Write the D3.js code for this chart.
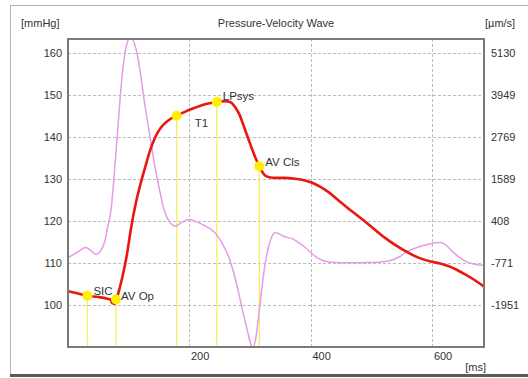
<!DOCTYPE html>
<html>
<head>
<meta charset="utf-8">
<script src="https://cdn.jsdelivr.net/npm/d3@7"></script>
<style>
  body { margin: 0; background: #fff; }
  svg { display: block; font-family: "Liberation Sans", Arial, sans-serif; }
</style>
</head>
<body>
<div id="chart"></div>
<script>
// pressure wave [mmHg] over time [ms]
const pressureTime = [0, 15, 32, 50, 65, 70, 73, 77, 80, 85, 90, 97, 104, 112, 120, 128, 134, 143, 153, 165, 179, 195, 209, 224, 245, 259, 268, 275, 282, 289, 296, 303, 309, 315, 320, 325, 333, 341, 356, 374, 390, 401, 415, 429, 448, 467, 495, 522, 550, 577, 599, 613, 626, 640, 654, 670, 685];
const pressure = [103.3, 102.8, 102.2, 101.9, 101.5, 101.3, 100.4, 100.3, 101.4, 104, 107, 112, 118.5, 124.5, 129.2, 133.3, 136.3, 139.8, 142.3, 144, 145.1, 146.2, 147, 147.8, 148.4, 148.6, 148.3, 147.2, 145.5, 142.8, 140, 137.2, 135, 133.1, 131.7, 130.8, 130.4, 130.3, 130.3, 130.1, 129.7, 129.2, 128.2, 126.9, 124.6, 122.4, 119.2, 116, 113.3, 111.3, 110.3, 109.9, 109.3, 108.4, 107.3, 105.9, 104.4];

// velocity wave [µm/s] over time [ms]
const velocityTime = [0, 15, 29, 38, 46, 54, 60, 66, 71, 76, 82, 88, 95, 103, 112, 119, 126, 134, 142, 150, 158, 167, 177, 188, 200, 209, 225, 242, 254, 264, 273, 281, 288, 295, 300, 304, 309, 314, 319, 325, 333, 341, 348, 355, 371, 381, 391, 400, 410, 420, 430, 448, 480, 510, 528, 545, 560, 577, 593, 605, 613, 622, 632, 645, 659, 672, 685];
const velocity = [-618, -470, -334, -420, -523, -420, -193, 300, 739, 1700, 3000, 4300, 5250, 5580, 5250, 4600, 3737, 2900, 2049, 1350, 739, 390, 268, 380, 456, 409, 280, 79, -220, -570, -1050, -1609, -2150, -2635, -3000, -3150, -2900, -2258, -1500, -759, -150, 79, 50, -16, -99, -210, -334, -480, -618, -700, -742, -759, -760, -750, -713, -600, -429, -320, -242, -200, -193, -260, -429, -620, -759, -810, -830];

// characteristic points
const markerNames = ['SIC', 'AV Op', 'T1', 'LPsys', 'AV Cls'];
const markerTime = [32, 79, 179, 245, 315];
const markerPressure = [102.2, 101.3, 145.1, 148.4, 133.1];

// axes
const leftTicks = [100, 110, 120, 130, 140, 150, 160];
const rightTickLabels = [-1951, -771, 408, 1589, 2769, 3949, 5130];
const timeTicks = [200, 400, 600];

const W = 528, H = 378;
const plot = { left: 68, top: 39, right: 484, bottom: 347 };

const svg = d3.select('#chart').append('svg')
    .attr('width', W)
    .attr('height', H);

// panel frame
svg.append('rect')
    .attr('x', 10.5).attr('y', 5.5)
    .attr('width', 530).attr('height', 369)
    .attr('fill', '#fff')
    .attr('stroke', '#b4b4b4');
svg.append('line')
    .attr('x1', 10).attr('x2', W)
    .attr('y1', 375.5).attr('y2', 375.5)
    .attr('stroke', '#5a5a5a')
    .attr('stroke-width', 3);

const x = d3.scaleLinear().domain([0, 685]).range([plot.left, plot.right]);
const y = d3.scaleLinear().domain([90, 163.4]).range([plot.bottom, plot.top]);
// right axis lines up with the left gridlines
const yR = d3.scaleLinear()
    .domain([rightTickLabels[0], rightTickLabels[rightTickLabels.length - 1]])
    .range([y(leftTicks[0]), y(leftTicks[leftTicks.length - 1])]);

svg.append('defs').append('clipPath').attr('id', 'clip')
    .append('rect')
    .attr('x', plot.left).attr('y', plot.top)
    .attr('width', plot.right - plot.left).attr('height', plot.bottom - plot.top);

// grid
const grid = svg.append('g').attr('class', 'grid')
    .attr('stroke', '#bdbdbd')
    .attr('stroke-dasharray', '3,2');
grid.selectAll('line.h').data(leftTicks).enter().append('line')
    .attr('class', 'h')
    .attr('x1', plot.left).attr('x2', plot.right)
    .attr('y1', d => Math.round(y(d)) + 0.5)
    .attr('y2', d => Math.round(y(d)) + 0.5);
grid.selectAll('line.v').data(timeTicks).enter().append('line')
    .attr('class', 'v')
    .attr('y1', plot.top).attr('y2', plot.bottom)
    .attr('x1', d => Math.round(x(d)) + 0.5)
    .attr('x2', d => Math.round(x(d)) + 0.5);

// yellow drop lines
const marks = markerNames.map((n, i) => ({ name: n, t: markerTime[i], p: markerPressure[i] }));
svg.append('g').selectAll('line').data(marks).enter().append('line')
    .attr('x1', d => x(d.t)).attr('x2', d => x(d.t))
    .attr('y1', d => y(d.p)).attr('y2', plot.bottom)
    .attr('stroke', '#f4ee5a')
    .attr('stroke-width', 1.2);

const curves = svg.append('g').attr('clip-path', 'url(#clip)');

const velLine = d3.line()
    .x(d => x(d[0]))
    .y(d => yR(d[1]))
    .curve(d3.curveMonotoneX);
curves.append('path')
    .datum(velocityTime.map((t, i) => [t, velocity[i]]))
    .attr('d', velLine)
    .attr('fill', 'none')
    .attr('stroke', '#e59be8')
    .attr('stroke-width', 1.5);

const presLine = d3.line()
    .x(d => x(d[0]))
    .y(d => y(d[1]))
    .curve(d3.curveMonotoneX);
curves.append('path')
    .datum(pressureTime.map((t, i) => [t, pressure[i]]))
    .attr('d', presLine)
    .attr('fill', 'none')
    .attr('stroke', '#e8170f')
    .attr('stroke-width', 2.6)
    .attr('stroke-linejoin', 'round');

// markers
svg.append('g').selectAll('circle').data(marks).enter().append('circle')
    .attr('cx', d => x(d.t))
    .attr('cy', d => y(d.p))
    .attr('r', 5)
    .attr('fill', '#ffef00');

const labelOffset = { 'SIC': [6, -5], 'AV Op': [5, -4], 'T1': [18, 7], 'LPsys': [6, -6], 'AV Cls': [6, -4] };
svg.append('g').selectAll('text').data(marks).enter().append('text')
    .attr('x', d => x(d.t) + labelOffset[d.name][0])
    .attr('y', d => y(d.p) + labelOffset[d.name][1])
    .attr('dy', '0.35em')
    .attr('font-size', 11.5)
    .attr('fill', '#333')
    .text(d => d.name);

// plot border
svg.append('rect')
    .attr('x', plot.left).attr('y', plot.top)
    .attr('width', plot.right - plot.left).attr('height', plot.bottom - plot.top)
    .attr('fill', 'none')
    .attr('stroke', '#7a7a7a')
    .attr('stroke-width', 2);

// axes
const leftAxis = svg.append('g')
    .attr('transform', 'translate(' + plot.left + ',0)')
    .call(d3.axisLeft(y).tickValues(leftTicks).tickSize(0).tickPadding(6));
const rightAxis = svg.append('g')
    .attr('transform', 'translate(' + plot.right + ',0)')
    .call(d3.axisRight(yR).tickValues(rightTickLabels).tickSize(0).tickPadding(7).tickFormat(d => String(d)));
const bottomAxis = svg.append('g')
    .attr('transform', 'translate(0,' + plot.bottom + ')')
    .call(d3.axisBottom(x).tickValues(timeTicks).tickSize(0).tickPadding(5));
bottomAxis.selectAll('text').attr('text-anchor', 'start').attr('dx', 1);
[leftAxis, rightAxis, bottomAxis].forEach(a => {
    a.select('.domain').remove();
    a.selectAll('text')
        .attr('font-size', 11)
        .attr('font-family', '"Liberation Sans", Arial, sans-serif')
        .attr('fill', '#333');
});

// titles
svg.append('text')
    .attr('x', (plot.left + plot.right) / 2).attr('y', 27)
    .attr('text-anchor', 'middle')
    .attr('font-size', 11)
    .attr('fill', '#333')
    .text('Pressure-Velocity Wave');
svg.append('text')
    .attr('x', 21).attr('y', 27)
    .attr('font-size', 11)
    .attr('fill', '#333')
    .text('[mmHg]');
svg.append('text')
    .attr('x', 485).attr('y', 27)
    .attr('font-size', 11)
    .attr('fill', '#333')
    .text('[µm/s]');
svg.append('text')
    .attr('x', 486).attr('y', 371)
    .attr('text-anchor', 'end')
    .attr('font-size', 11)
    .attr('fill', '#333')
    .text('[ms]');
</script>
</body>
</html>
